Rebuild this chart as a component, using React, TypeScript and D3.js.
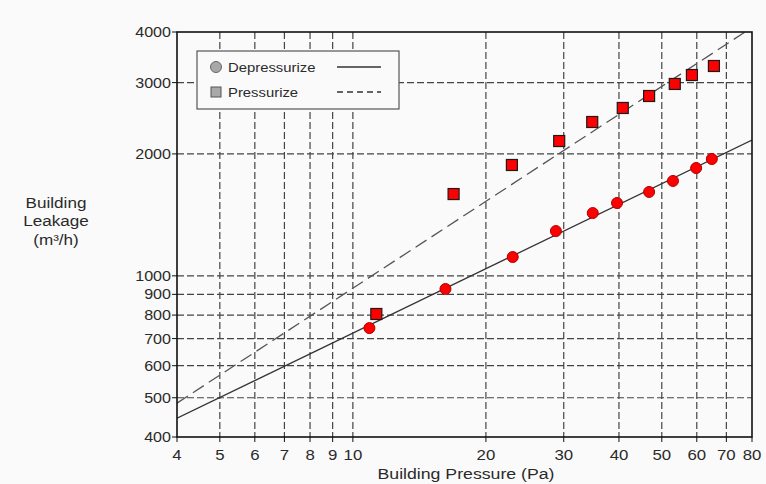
import React from "react";
import * as d3 from "d3";

// Measured building leakage at each pressure difference
const depressurizeP = [10.9, 16.2, 23.0, 28.8, 34.9, 39.6, 46.8, 53.0, 59.8, 64.9];
const depressurizeQ = [743, 928, 1113, 1290, 1429, 1513, 1611, 1715, 1846, 1943];
const pressurizeP = [11.3, 16.9, 22.9, 29.3, 34.8, 40.8, 46.8, 53.5, 58.5, 65.6];
const pressurizeQ = [805, 1592, 1878, 2152, 2398, 2597, 2780, 2977, 3132, 3297];

// Fitted power-law lines (straight on log-log axes), given by their end points
const depressurizeFitP = [4, 80];
const depressurizeFitQ = [445, 2165];
const pressurizeFitP = [4, 80];
const pressurizeFitQ = [485, 4104];

const xTicks = [4, 5, 6, 7, 8, 9, 10, 20, 30, 40, 50, 60, 70, 80];
const yTicks = [400, 500, 600, 700, 800, 900, 1000, 2000, 3000, 4000];

const W = 766;
const H = 484;
const M = { left: 177, right: 752, top: 32, bottom: 437 };
const FONT = "Arial, 'Liberation Sans', sans-serif";

// Text drawn with a slightly widened face
function T(props: {
  x: number;
  y: number;
  size: number;
  anchor?: "start" | "middle" | "end";
  sx?: number;
  dy?: string;
  children: React.ReactNode;
}) {
  const sx = props.sx ?? 1.13;
  return (
    <text
      transform={`translate(${props.x},${props.y}) scale(${sx},1)`}
      fontSize={props.size}
      textAnchor={props.anchor ?? "start"}
      dy={props.dy}
      fill="#2a2a2a"
    >
      {props.children}
    </text>
  );
}

export default function App() {
  const x = d3.scaleLog().domain([4, 80]).range([M.left, M.right]);
  const y = d3.scaleLog().domain([400, 4000]).range([M.bottom, M.top]);

  const line = d3
    .line<[number, number]>()
    .x((d) => x(d[0]))
    .y((d) => y(d[1]));

  const depFit = line(depressurizeFitP.map((p, i) => [p, depressurizeFitQ[i]]));
  const presFit = line(pressurizeFitP.map((p, i) => [p, pressurizeFitQ[i]]));

  const gridColor = "#444";
  const sq = 11;

  return (
    <svg
      width={W}
      height={H}
      style={{ position: "absolute", left: 0, top: 0, background: "#fafafa" }}
      fontFamily={FONT}
    >
      <defs>
        <clipPath id="plotClip">
          <rect x={M.left} y={M.top} width={M.right - M.left} height={M.bottom - M.top} />
        </clipPath>
      </defs>

      {/* grid */}
      <g stroke={gridColor} strokeWidth={1.2} strokeDasharray="7,3">
        {xTicks
          .filter((t) => t !== 4 && t !== 80)
          .map((t) => (
            <line key={"gx" + t} x1={x(t)} x2={x(t)} y1={M.top} y2={M.bottom} />
          ))}
        {yTicks
          .filter((t) => t !== 400 && t !== 4000)
          .map((t) => (
            <line key={"gy" + t} x1={M.left} x2={M.right} y1={y(t)} y2={y(t)} />
          ))}
      </g>

      {/* fit lines */}
      <g clipPath="url(#plotClip)" fill="none">
        <path d={depFit || ""} stroke="#333" strokeWidth={1.3} />
        <path d={presFit || ""} stroke="#555" strokeWidth={1.3} strokeDasharray="13,6" />
      </g>

      {/* measured points */}
      <g>
        {depressurizeP.map((p, i) => (
          <circle
            key={"c" + i}
            cx={x(p)}
            cy={y(depressurizeQ[i])}
            r={5.5}
            fill="#ff0000"
            stroke="#b00000"
            strokeWidth={1}
          />
        ))}
        {pressurizeP.map((p, i) => (
          <rect
            key={"s" + i}
            x={x(p) - sq / 2}
            y={y(pressurizeQ[i]) - sq / 2}
            width={sq}
            height={sq}
            fill="#ff0000"
            stroke="#1a1a1a"
            strokeWidth={1.2}
          />
        ))}
      </g>

      {/* frame */}
      <rect
        x={M.left}
        y={M.top}
        width={M.right - M.left}
        height={M.bottom - M.top}
        fill="none"
        stroke="#111"
        strokeWidth={1.6}
      />

      {/* y ticks */}
      {yTicks.map((t) => (
        <g key={"yt" + t}>
          <line x1={M.left - 5} x2={M.left} y1={y(t)} y2={y(t)} stroke="#111" strokeWidth={1} />
          <T x={M.left - 6} y={y(t)} size={14} anchor="end" dy="0.36em" sx={1.15}>
            {t}
          </T>
        </g>
      ))}

      {/* x ticks */}
      {xTicks.map((t) => (
        <g key={"xt" + t}>
          <line x1={x(t)} x2={x(t)} y1={M.bottom} y2={M.bottom + 5} stroke="#111" strokeWidth={1} />
          <T x={x(t)} y={M.bottom + 23} size={15} anchor="middle" sx={1.12}>
            {t}
          </T>
        </g>
      ))}

      {/* axis titles */}
      <T x={466} y={479} size={15.4} anchor="middle" sx={1.15}>
        Building Pressure (Pa)
      </T>
      <T x={56} y={208} size={14.5} anchor="middle" sx={1.18}>
        Building
      </T>
      <T x={56} y={226} size={14.5} anchor="middle" sx={1.18}>
        Leakage
      </T>
      <T x={56} y={245} size={14.5} anchor="middle" sx={1.18}>
        (m³/h)
      </T>

      {/* legend */}
      <g>
        <rect x={197} y={51} width={202} height={58} fill="#fafafa" stroke="#555" strokeWidth={1.2} />
        <circle cx={216} cy={67} r={5.5} fill="#a8a8a8" stroke="#666" strokeWidth={1} />
        <rect x={211} y={87} width={10} height={10} fill="#a8a8a8" stroke="#555" strokeWidth={1} />
        <T x={228} y={72} size={13.5} sx={1.1}>
          Depressurize
        </T>
        <T x={228} y={97} size={13.5} sx={1.1}>
          Pressurize
        </T>
        <line x1={337} x2={381} y1={67} y2={67} stroke="#333" strokeWidth={1.3} />
        <line x1={337} x2={381} y1={92} y2={92} stroke="#333" strokeWidth={1.3} strokeDasharray="6,4" />
      </g>
    </svg>
  );
}
